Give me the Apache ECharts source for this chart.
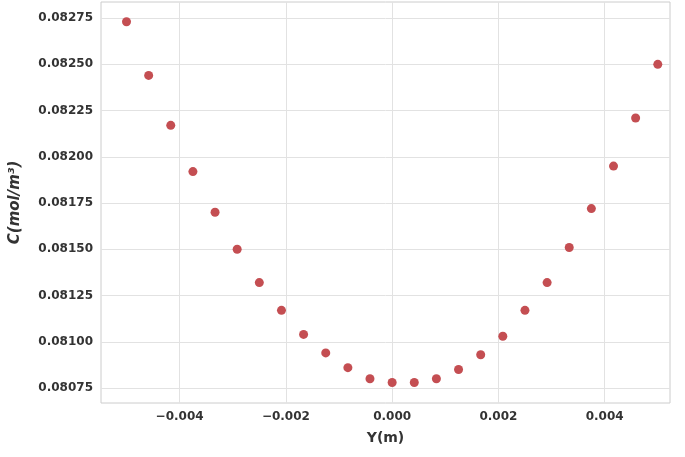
<!DOCTYPE html>
<html><head><meta charset="utf-8">
<script src="https://cdn.jsdelivr.net/npm/echarts@6/dist/echarts.min.js"></script>
<style>html,body{margin:0;padding:0;background:#fff}#c{width:685px;height:457px}</style>
</head><body><div id="c"></div>
<script>
const yPos = [-0.005,-0.004583,-0.004167,-0.00375,-0.003333,-0.002917,-0.0025,-0.002083,-0.001667,-0.00125,-0.000833,-0.000417,0,0.000417,0.000833,0.00125,0.001667,0.002083,0.0025,0.002917,0.003333,0.00375,0.004167,0.004583,0.005];
const conc = [0.08273,0.08244,0.08217,0.08192,0.08170,0.08150,0.08132,0.08117,0.08104,0.08094,0.08086,0.08080,0.08078,0.08078,0.08080,0.08085,0.08093,0.08103,0.08117,0.08132,0.08151,0.08172,0.08195,0.08221,0.08250];
const xTicks = [-0.004,-0.002,0,0.002,0.004];
const yTicks = [0.08075,0.081,0.08125,0.0815,0.08175,0.082,0.08225,0.0825,0.08275];
const data = yPos.map((x,i)=>[x,conc[i]]);
const chart = echarts.init(document.getElementById('c'));
const lab = {color:'#333',fontWeight:'bold',fontSize:12,fontFamily:'DejaVu Sans'};
chart.setOption({
  animation:false,
  grid:{left:95,right:15,top:2,bottom:54,show:true,borderColor:'#ccc',borderWidth:1},
  xAxis:{type:'value',min:-0.00548,max:0.00523,
    name:'Y(m)',nameLocation:'middle',nameGap:28,nameTextStyle:{fontSize:14,fontWeight:'bold',color:'#333',fontFamily:'DejaVu Sans'},
    axisLine:{show:false},axisTick:{show:false,customValues:xTicks},splitLine:{show:true,lineStyle:{color:'#e2e2e2'}},
    axisLabel:Object.assign({},lab,{customValues:xTicks,formatter:v=>(v<-1e-9?'\u2212':'')+Math.abs(v).toFixed(3)}),
  },
  yAxis:{type:'value',min:0.080669,max:0.082837,
    name:'C(mol/m³)',nameLocation:'middle',nameGap:78,nameTextStyle:{fontSize:15,fontWeight:'bold',fontStyle:'italic',color:'#333',fontFamily:'DejaVu Sans'},
    axisLine:{show:false},axisTick:{show:false,customValues:yTicks},splitLine:{show:true,lineStyle:{color:'#e2e2e2'}},
    axisLabel:Object.assign({},lab,{customValues:yTicks,formatter:v=>v.toFixed(5)})
  },
  series:[{type:'scatter',data:data,symbolSize:9,itemStyle:{color:'#c44e52',opacity:1}}]
});
</script></body></html>
